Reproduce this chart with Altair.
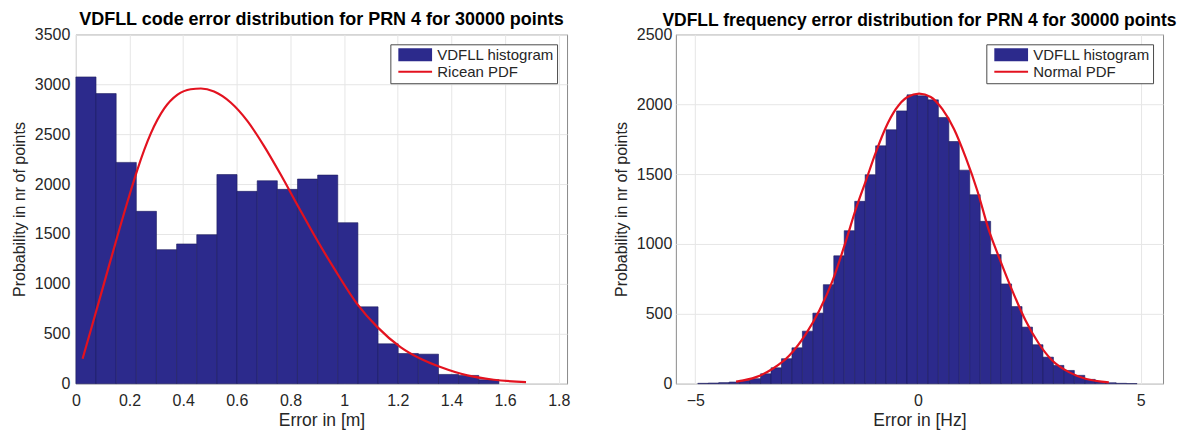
import altair as alt
import pandas as pd

FONT = "Liberation Sans"
BAR = "#2c2a8c"
EDGE = "#1d1c5e"
RED = "#e3121f"
TXT = "#262626"

HIST = "VDFLL histogram"
PDF_CODE = "Ricean PDF"
PDF_FREQ = "Normal PDF"
Y_TITLE = "Probability in nr of points"

# ---- left panel: code error ----
code_bin_start = 0.0
code_bin_width = 0.0751
code_counts = [3073, 2906, 2217, 1727, 1343, 1400, 1493, 2095, 1927, 2033, 1947,
               2050, 2090, 1613, 770, 400, 303, 296, 93, 83, 40]
ricean_x = [0.025, 0.056, 0.105, 0.155, 0.205, 0.230, 0.279, 0.329, 0.379, 0.428,
            0.466, 0.515, 0.577, 0.639, 0.701, 0.763, 0.832, 0.900, 0.962, 1.049,
            1.124, 1.210, 1.285, 1.359, 1.459, 1.558, 1.678]
ricean_y = [250, 540, 1005, 1480, 1935, 2150, 2505, 2755, 2895, 2950,
            2957, 2927, 2817, 2633, 2383, 2098, 1760, 1434, 1158, 798,
            567, 367, 250, 167, 83, 40, 15]
code_xdomain = [0, 1.831]
code_xticks = [0, 0.2, 0.4, 0.6, 0.8, 1, 1.2, 1.4, 1.6, 1.8]
code_yticks = [0, 500, 1000, 1500, 2000, 2500, 3000, 3500]

# ---- right panel: frequency error ----
freq_bin_start = -4.944
freq_bin_width = 0.2349
freq_counts = [3, 5, 8, 12, 24, 36, 71, 114, 179, 257, 376, 505, 709, 915,
               1095, 1305, 1495, 1702, 1817, 1952, 2067, 2060, 2031, 1905, 1733, 1528, 1352, 1162,
               924, 714, 552, 405, 279, 190, 131, 95, 60, 31, 14, 7, 3, 1]
normal_x = [-4.085, -3.637, -3.262, -2.888, -2.516, -2.215, -1.917, -1.619, -1.395, -1.170,
            -0.946, -0.722, -0.498, -0.235, 0.027, 0.287, 0.549, 0.812, 1.072, 1.334,
            1.596, 1.821, 2.119, 2.417, 2.717, 3.016, 3.390, 3.762, 4.287]
normal_y = [15, 47, 107, 202, 357, 524, 738, 1020, 1250, 1452,
            1655, 1833, 1964, 2052, 2076, 2052, 1964, 1821, 1619, 1381,
            1095, 904, 666, 452, 286, 166, 83, 36, 10]
freq_xdomain = [-5.437, 5.504]
freq_xticks = [-5, 0, 5]
freq_yticks = [0, 500, 1000, 1500, 2000, 2500]

RECT_PATH = "M-1,-1H4.2V1H-1Z"
LINE_PATH = "M-1,-0.17H4.2V0.17H-1Z"


def hist_frame(start, width, counts):
    return pd.DataFrame({
        "x0": [start + i * width for i in range(len(counts))],
        "x1": [start + (i + 1) * width for i in range(len(counts))],
        "count": counts,
    })


def panel(hdf, cdf, pdf_name, xdom, xticks, ymax, yticks, xtitle, title,
          w, h, title_size, ylab_pad):
    xscale = alt.Scale(domain=xdom, nice=False, zero=False)
    yscale = alt.Scale(domain=[0, ymax], nice=False)
    xaxis = alt.Axis(values=xticks, title=xtitle, labelPadding=9, titlePadding=3,
                     titleFontSize=17.5, labelFlush=False, format="~g")
    yaxis = alt.Axis(values=yticks, title=Y_TITLE, labelPadding=ylab_pad, titlePadding=7,
                     titleFontSize=16, format="d")
    bars = alt.Chart(hdf).mark_rect(color=BAR, stroke=EDGE, strokeWidth=0.6).encode(
        x=alt.X("x0:Q", scale=xscale, axis=xaxis),
        x2="x1:Q",
        y=alt.Y("count:Q", scale=yscale, axis=yaxis),
        y2=alt.datum(0),
    )
    curve = alt.Chart(cdf).mark_line(color=RED, strokeWidth=2.2, interpolate="monotone").encode(
        x=alt.X("x:Q", scale=xscale, axis=xaxis),
        y=alt.Y("y:Q", scale=yscale, axis=yaxis),
    )
    names = [HIST, pdf_name]
    leg_df = pd.DataFrame({"series": names, "x": [xdom[0], xdom[0]], "y": [0, 0]})
    leg = dict(title=None, orient="top-right", offset=10, padding=3,
               strokeColor="#4a4a4a", fillColor="white", cornerRadius=0,
               labelFont=FONT, labelFontSize=15, labelColor=TXT, labelLimit=400,
               symbolSize=169, symbolOpacity=1, symbolStrokeWidth=0,
               labelOffset=25, rowPadding=1, symbolOffset=4)
    legend_layer = alt.Chart(leg_df).mark_point(filled=True, opacity=0, strokeWidth=0).encode(
        x=alt.X("x:Q", scale=xscale, axis=xaxis),
        y=alt.Y("y:Q", scale=yscale, axis=yaxis),
        color=alt.Color("series:N", scale=alt.Scale(domain=names, range=[BAR, RED]),
                        legend=alt.Legend(**leg)),
        shape=alt.Shape("series:N", scale=alt.Scale(domain=names, range=[RECT_PATH, LINE_PATH]),
                        legend=alt.Legend(**leg)),
    )
    return alt.layer(bars, curve, legend_layer).properties(
        width=w, height=h,
        title=alt.TitleParams(title, font=FONT, fontSize=title_size, fontWeight="bold",
                              color="black", anchor="middle", frame="group", offset=-3),
    )


left = panel(hist_frame(code_bin_start, code_bin_width, code_counts),
             pd.DataFrame({"x": ricean_x, "y": ricean_y}), PDF_CODE,
             code_xdomain, code_xticks, 3500, code_yticks, "Error in [m]",
             "VDFLL code error distribution for PRN 4 for 30000 points",
             492, 350, 18, 6)
right = panel(hist_frame(freq_bin_start, freq_bin_width, freq_counts),
              pd.DataFrame({"x": normal_x, "y": normal_y}), PDF_FREQ,
              freq_xdomain, freq_xticks, 2500, freq_yticks, "Error in [Hz]",
              "VDFLL frequency error distribution for PRN 4 for 30000 points",
              488, 350, 17.5, 4)

chart = alt.hconcat(left, right, spacing=41).resolve_scale(
    color="independent", shape="independent"
).resolve_legend(
    color="independent", shape="independent"
).properties(
    padding={"left": 2, "top": 2, "right": 0, "bottom": 0},
    background="white",
).configure_axis(
    labelFont=FONT, labelFontSize=16, labelColor=TXT,
    titleFont=FONT, titleFontWeight="normal", titleColor=TXT,
    ticks=False, domain=False, grid=True, gridColor="#e6e6e6", gridWidth=1,
).configure_view(stroke="#8a8a8a", strokeWidth=1)

chart.save("out.html", embed_options={"renderer": "svg", "actions": False})
